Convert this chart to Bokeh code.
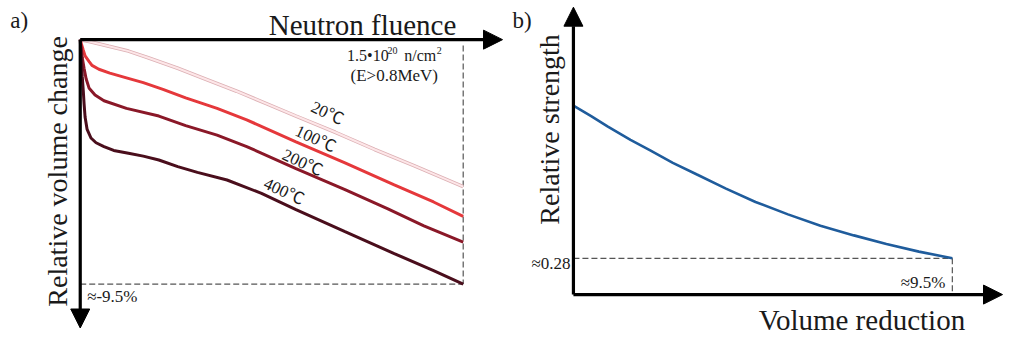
import math
from bokeh.plotting import figure
from bokeh.models import Arrow, NormalHead, Label, Range1d
from bokeh.layouts import row
from bokeh.embed import file_html
from bokeh.resources import INLINE

# ---------------- Panel a data (fluence in 1e20 n/cm^2, volume change in %) ----------------
fluence_20 = [0, 0.035, 0.112, 0.189, 0.266, 0.382, 0.497, 0.613, 0.729, 0.845, 0.999, 1.153, 1.307, 1.5]
change_20 = [0, -0.074, -0.260, -0.445, -0.705, -1.113, -1.559, -2.004, -2.486, -2.969, -3.600, -4.268, -4.898, -5.715]

fluence_100 = [0, 0.004, 0.012, 0.019, 0.035, 0.046, 0.073, 0.116, 0.181, 0.247, 0.324, 0.413, 0.536, 0.652, 0.845, 1.037, 1.230, 1.384, 1.5]
change_100 = [0, -0.148, -0.408, -0.631, -0.854, -1.002, -1.150, -1.299, -1.484, -1.670, -1.930, -2.264, -2.672, -3.117, -3.971, -4.787, -5.641, -6.309, -6.865]

fluence_200 = [0, 0.004, 0.008, 0.015, 0.023, 0.035, 0.058, 0.093, 0.181, 0.308, 0.413, 0.536, 0.652, 0.845, 1.037, 1.203, 1.346, 1.5]
change_200 = [0, -0.334, -0.705, -1.113, -1.521, -1.893, -2.152, -2.375, -2.672, -2.969, -3.340, -3.711, -4.156, -5.010, -5.826, -6.568, -7.236, -7.867]

fluence_400 = [0, 0.004, 0.008, 0.012, 0.015, 0.019, 0.027, 0.042, 0.062, 0.093, 0.131, 0.189, 0.247, 0.308, 0.382, 0.459, 0.575, 0.710, 0.845, 1.037, 1.230, 1.384, 1.5]
change_400 = [0, -0.705, -1.447, -2.004, -2.486, -3.006, -3.488, -3.822, -4.008, -4.156, -4.305, -4.416, -4.527, -4.676, -4.935, -5.158, -5.455, -5.975, -6.605, -7.459, -8.313, -8.980, -9.5]

temp_labels = ["20℃", "100℃", "200℃", "400℃"]
max_fluence = 1.5
min_change = -9.5

# ---------------- Panel b data (volume reduction in %, relative strength) ----------------
reduction = [0, 0.444, 0.864, 1.431, 1.925, 2.492, 3.084, 3.825, 4.565, 5.379, 6.193, 7.032, 7.847, 8.661, 9.5]
strength = [1.0, 0.9505, 0.901, 0.838, 0.7885, 0.73, 0.676, 0.6085, 0.5455, 0.487, 0.433, 0.388, 0.3475, 0.3115, 0.28]
end_strength = 0.28
end_reduction = 9.5

FONT = "Liberation Serif"
FONT_CJK = "Liberation Serif, Noto Sans CJK SC"


def base_fig(w, h, xr, yr):
    p = figure(width=w, height=h, x_range=Range1d(*xr), y_range=Range1d(*yr),
               output_backend="svg", toolbar_location=None,
               x_axis_location=None, y_axis_location=None,
               min_border=0, min_border_left=0, min_border_right=0,
               min_border_top=0, min_border_bottom=0)
    p.grid.visible = False
    p.outline_line_color = None
    p.background_fill_color = "white"
    p.border_fill_color = "white"
    return p


def lbl(p, x, y, text, size, align="left", baseline="alphabetic", angle=0,
        color="#1a1a1a", font=FONT, shift=True):
    fs = float(size.replace("px", ""))
    xo, yo = 0, 0
    if shift:
        if angle == 0:
            yo = 0.3 * fs
        else:
            xo = -0.3 * fs
    p.add_layout(Label(x=x, y=y, text=text, text_font=font, text_font_size=size,
                       text_align=align, text_baseline=baseline, angle=angle,
                       text_color=color, x_offset=xo, y_offset=yo))


def head():
    return NormalHead(size=19, fill_color="black", line_color="black", line_width=1)


# ================= Panel a =================
pa = base_fig(507, 338, (-0.3123, 1.6735), (-11.615, 1.5215))

# dashed guides
pa.line([max_fluence, max_fluence], [-0.223, min_change], line_color="#555555", line_width=1.2, line_dash="6 3")
pa.line([0, max_fluence], [min_change, min_change], line_color="#555555", line_width=1.2, line_dash="6 3")

# curves
pa.line(fluence_20, change_20, line_color="#dcb0b4", line_width=3.6)
pa.line(fluence_20, change_20, line_color="#fde6e8", line_width=2.0)
pa.line(fluence_100, change_100, line_color="#e5383b", line_width=3)
pa.line(fluence_200, change_200, line_color="#8a1828", line_width=3)
pa.line(fluence_400, change_400, line_color="#4a0e1c", line_width=3)

# axes arrows
pa.add_layout(Arrow(end=head(), x_start=0, y_start=0, x_end=1.654, y_end=0,
                    line_width=3.2, line_color="black"))
pa.add_layout(Arrow(end=head(), x_start=0, y_start=0, x_end=0, y_end=-11.207,
                    line_width=3.2, line_color="black"))

ang = -0.44
label_pos = [(0.968, -2.857), (0.922, -3.859), (0.871, -4.787), (0.798, -5.900)]
for (lx, ly), t in zip(label_pos, temp_labels):
    lbl(pa, lx, ly, t, "17px", align="center", baseline="middle", angle=ang, font=FONT_CJK, shift=False)

lbl(pa, -0.2738, 0.482, "a)", "23px")
lbl(pa, 1.473, 0.223, "Neutron fluence", "29px", align="right")
# 1.5•10^20 n/cm^2 with raised exponents
lbl(pa, 1.045, -0.816, "1.5•10", "16px")
lbl(pa, 1.203, -0.557, "20", "10px")
lbl(pa, 1.269, -0.816, "n/cm", "16px")
lbl(pa, 1.396, -0.557, "2", "10px")
lbl(pa, 1.230, -1.596, "(E>0.8MeV)", "17px", align="center")
lbl(pa, 0.027, -10.168, "≈-9.5%", "17px")
lbl(pa, -0.0578, -5.121, "Relative volume change", "28px", align="center", angle=math.pi / 2)

# ================= Panel b =================
pb = base_fig(497, 338, (-1.653, 10.808), (-0.098, 1.495))
y0 = 0.109

pb.line([0, end_reduction], [end_strength, end_strength], line_color="#555555", line_width=1.2, line_dash="6 3")
pb.line([end_reduction, end_reduction], [end_strength, y0], line_color="#555555", line_width=1.2, line_dash="6 3")

pb.line(reduction, strength, line_color="#1f5c9c", line_width=2.6)

pb.add_layout(Arrow(end=head(), x_start=0, y_start=y0, x_end=0, y_end=1.4635,
                    line_width=3.2, line_color="black"))
pb.add_layout(Arrow(end=head(), x_start=0, y_start=y0, x_end=10.758, y_end=y0,
                    line_width=3.2, line_color="black"))

lbl(pb, -1.530, 1.369, "b)", "23px")
lbl(pb, -0.395, 0.8875, "Relative strength", "28px", align="center", angle=math.pi / 2)
lbl(pb, -0.074, 0.2305, "≈0.28", "17px", align="right")
lbl(pb, 9.327, 0.1405, "≈9.5%", "17px", align="right")
lbl(pb, 9.821, -0.053, "Volume reduction", "29px", align="right")

layout = row(pa, pb)
open("out.html", "w").write(file_html(layout, INLINE))
